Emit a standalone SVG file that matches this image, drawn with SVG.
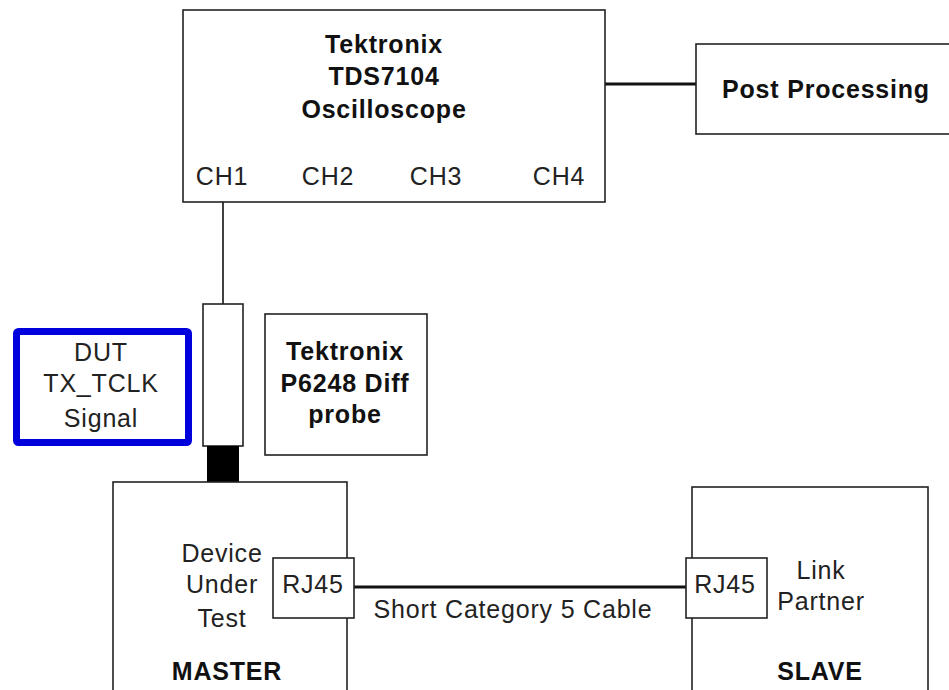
<svg xmlns="http://www.w3.org/2000/svg" width="949" height="690" viewBox="0 0 949 690">
<style>
  .box{fill:#fff;stroke:#222;stroke-width:1.6}
  .t{font-family:"Liberation Sans",Arial,sans-serif;font-size:25px;fill:#222;letter-spacing:0.8px;text-anchor:middle}
  .b{font-weight:bold;fill:#111}
  .wire{stroke:#111;fill:none}
</style>
<rect width="949" height="690" fill="#fff"/>
<g id="connectors">
  <line class="wire" x1="605" y1="84" x2="696" y2="84" stroke-width="3.2"/>
  <line class="wire" x1="223" y1="202" x2="223" y2="304" stroke-width="1.6"/>
  <line class="wire" x1="354" y1="587" x2="686" y2="587" stroke-width="3.2"/>
  <text class="t" x="513" y="618">Short Category 5 Cable</text>
</g>
<g id="oscilloscope">
  <rect class="box" x="183" y="10" width="422" height="192"/>
  <text class="t b" x="384" y="53">Tektronix</text>
  <text class="t b" x="384" y="85">TDS7104</text>
  <text class="t b" x="384" y="118">Oscilloscope</text>
  <text class="t" x="222" y="185">CH1</text>
  <text class="t" x="328" y="185">CH2</text>
  <text class="t" x="436" y="185">CH3</text>
  <text class="t" x="559" y="185">CH4</text>
</g>
<g id="post-processing">
  <rect class="box" x="696" y="44" width="270" height="90"/>
  <text class="t b" x="826" y="98">Post Processing</text>
</g>
<g id="dut-signal">
  <rect x="16.5" y="331.5" width="172" height="111" rx="2" fill="#fff" stroke="#0000dd" stroke-width="7"/>
  <text class="t" x="101" y="361">DUT</text>
  <text class="t" x="101" y="392">TX_TCLK</text>
  <text class="t" x="101" y="427">Signal</text>
</g>
<g id="probe">
  <rect class="box" x="203" y="304" width="40" height="142"/>
  <rect x="207" y="446" width="32" height="42" fill="#000"/>
</g>
<g id="probe-label">
  <rect class="box" x="265" y="314" width="162" height="141"/>
  <text class="t b" x="345" y="360">Tektronix</text>
  <text class="t b" x="345" y="392">P6248 Diff</text>
  <text class="t b" x="345" y="423">probe</text>
</g>
<g id="master">
  <rect class="box" x="113" y="482" width="234" height="220"/>
  <text class="t" x="222" y="562">Device</text>
  <text class="t" x="222" y="593">Under</text>
  <text class="t" x="222" y="627">Test</text>
  <text class="t b" x="227" y="680">MASTER</text>
  <rect class="box" x="273" y="558" width="81" height="60"/>
  <text class="t" x="313" y="593">RJ45</text>
</g>
<g id="slave">
  <rect class="box" x="692" y="487" width="236" height="220"/>
  <text class="t" x="821" y="579">Link</text>
  <text class="t" x="821" y="610">Partner</text>
  <text class="t b" x="820" y="680">SLAVE</text>
  <rect class="box" x="686" y="558" width="81" height="60"/>
  <text class="t" x="725" y="593">RJ45</text>
</g>
</svg>
